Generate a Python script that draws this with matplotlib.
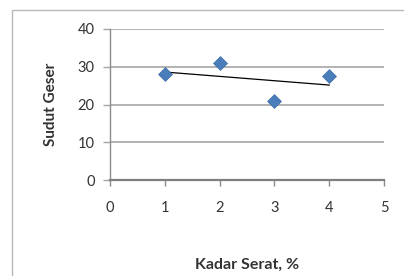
import numpy as np
import matplotlib.pyplot as plt
from matplotlib.patches import Rectangle

# data
kadar_serat = [1, 2, 3, 4]
sudut_geser = [28, 31, 21, 27.5]
x_ticks = [0, 1, 2, 3, 4, 5]
y_ticks = [0, 10, 20, 30, 40]

plt.rcParams['font.family'] = ['Lato', 'DejaVu Sans']

fig = plt.figure(figsize=(4.04, 2.76), dpi=100)
ax = fig.add_axes([110/404, 1 - 180/276, 274/404, 151/276])

# chart area frame (runs off the right/bottom edge)
fig.patches.append(Rectangle((12/404, -0.1), 1.2, 1 - 10/276 + 0.1,
                             transform=fig.transFigure, fill=False,
                             edgecolor='#b8b8b8', linewidth=1.0))

ax.scatter(kadar_serat, sudut_geser, marker='D', s=50, color='#4a7ebb',
           edgecolors='#3d6ca6', linewidths=0.5, zorder=3)

# linear trendline
k, b = np.polyfit(kadar_serat, sudut_geser, 1)
xs = np.array([kadar_serat[0], kadar_serat[-1]])
ax.plot(xs, k * xs + b, color='black', linewidth=0.9, zorder=2)

ax.set_xlim(0, 5)
ax.set_ylim(0, 40)
ax.set_xticks(x_ticks)
ax.set_yticks(y_ticks)
ax.yaxis.grid(True, color='#a6a6a6', linewidth=1.2)
ax.set_axisbelow(True)

for s in ['top', 'right']:
    ax.spines[s].set_visible(False)
ax.spines['left'].set_color('#8c8c8c')
ax.spines['left'].set_linewidth(1.0)
ax.spines['bottom'].set_color('#7f7f7f')
ax.spines['bottom'].set_linewidth(1.6)

ax.tick_params(axis='y', length=5, width=1.0, color='#a6a6a6', pad=6,
               labelsize=10.5, labelcolor='#333333')
ax.tick_params(axis='x', length=4, width=1.0, color='#8c8c8c', pad=11,
               labelsize=10.5, labelcolor='#333333')

ax.set_ylabel('Sudut Geser', fontsize=11, fontweight='bold', color='#333333',
              labelpad=14)
ax.set_xlabel('Kadar Serat, %', fontsize=11.5, fontweight='bold', color='#333333',
              labelpad=31)

fig.savefig('out.png', dpi=100)
